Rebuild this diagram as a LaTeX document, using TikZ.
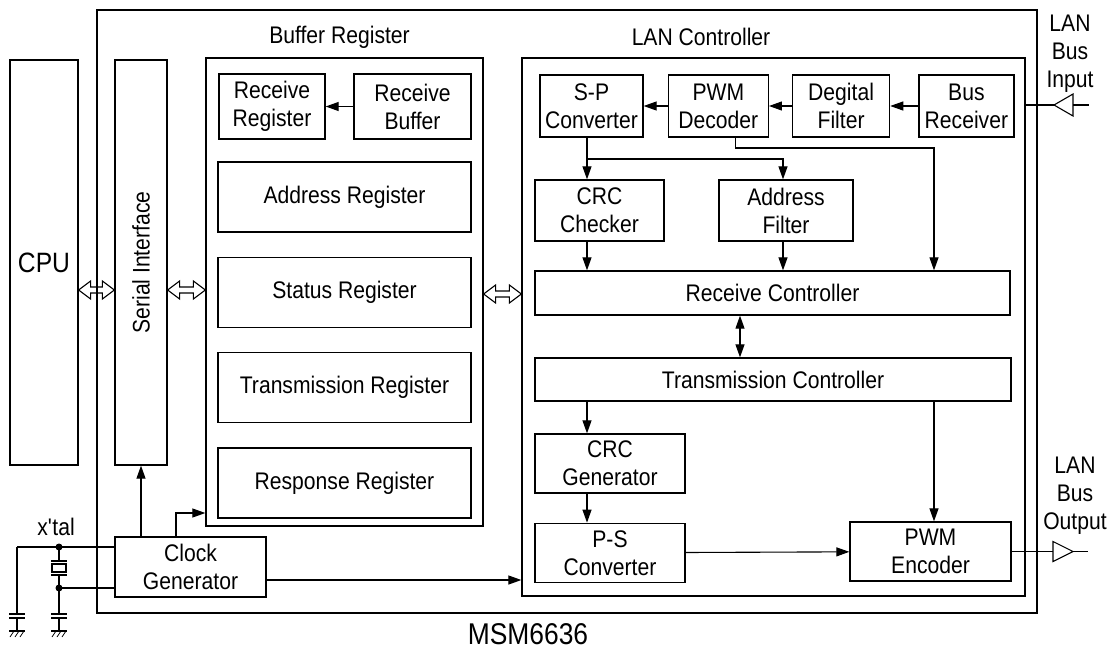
\documentclass[tikz,border=0pt]{standalone}
\usepackage{fontspec}
\setmainfont{Liberation Sans}[FakeStretch=0.88]
\usetikzlibrary{arrows.meta, positioning}

\tikzset{
    bus/.style={
        line width=1.1pt,
        to path={(\tikztostart) -- ++(12pt,9pt) -- ++(0pt,-6pt)
            -- ([shift={(-12pt,3pt)}]\tikztotarget) -- ++(0pt,6pt)
            -- (\tikztotarget) -- ++(-12pt,-9pt) -- ++(0pt,6pt)
            -- ([shift={(12pt,-3pt)}]\tikztostart) -- ++(0pt,-6pt) -- cycle}
    }
}

\begin{document}
\begin{tikzpicture}[
            x=1pt, y=-1pt,
            every node/.style={font=\fontsize{24}{28}\selectfont},
            block/.style={
                rectangle, 
                draw, 
                line width=1.3pt, 
                inner sep=0pt, 
                align=center
            },
            reg/.style={
                block, 
                minimum width=253pt, 
                minimum height=70pt
            },
            wire/.style={line width=1.1pt},
            arrow/.style={
                -{Triangle[length=13pt, width=9pt]}, 
                line width=1.1pt
            },
            dblarrow/.style={
                {Triangle[length=13pt, width=9pt]}-{Triangle[length=13pt, width=9pt]}, 
                line width=1.1pt
            }
        ]
        \useasboundingbox (0,0) rectangle (1119,651);
        
        % Chip outline
        \node (chip) [block, minimum width=940pt, minimum height=603pt] at (567,311.5) {};
        \node (chipname) [font=\fontsize{30}{34}\selectfont] at (528,634) {MSM6636};
        
        % CPU and Serial Interface
        \node (cpu) [block, minimum width=68pt, minimum height=405pt, font=\fontsize{28}{32}\selectfont] at (44,262.5) {CPU};
        \node (serial) [block, minimum width=52pt, minimum height=405pt] at (141,262.5) {};
        \node (seriallabel) [rotate=90] at (serial.center) {Serial Interface};
        
        % Buffer Register
        \node (bufreg) [block, minimum width=277pt, minimum height=468pt] at (344.5,292) {};
        \node (buftitle) at (339.5,37) {Buffer Register};
        \node (rxreg) [block, minimum width=106pt, minimum height=65pt] at (272,106.5) {Receive\\Register};
        \node (rxbuf) [block, minimum width=117pt, minimum height=65pt] at (412.5,106.5) {Receive\\Buffer};
        \node (addrreg) [reg] at (344.5,197) {Address Register};
        \node (statreg) [reg, below=24pt of addrreg] {Status Register};
        \node (txreg) [reg, below=24pt of statreg] {Transmission Register};
        \node (respreg) [reg, below=24pt of txreg] {Response Register};
        
        % LAN Controller
        \node (lan) [block, minimum width=503pt, minimum height=538pt] at (773.5,327) {};
        \node (lantitle) at (701,37) {LAN Controller};
        \node (sp) [block, minimum width=103pt, minimum height=62pt] at (591.5,106) {S-P\\Converter};
        \node (pwmdec) [block, minimum width=100pt, minimum height=62pt, right=24pt of sp] {PWM\\Decoder};
        \node (digfilt) [block, minimum width=97pt, minimum height=62pt, right=23pt of pwmdec] {Degital\\Filter};
        \node (busrx) [block, minimum width=95pt, minimum height=62pt, right=28pt of digfilt] {Bus\\Receiver};
        \node (crcchk) [block, minimum width=129pt, minimum height=61pt] at (599.5,210.5) {CRC\\Checker};
        \node (addrfilt) [block, minimum width=134pt, minimum height=61pt] at (786,210.5) {Address\\Filter};
        \node (rxctrl) [block, minimum width=475pt, minimum height=44pt] at (772.5,293) {Receive Controller};
        \node (txctrl) [block, minimum width=476pt, minimum height=43pt] at (773,379.5) {Transmission Controller};
        \node (crcgen) [block, minimum width=150pt, minimum height=59pt] at (610,463.5) {CRC\\Generator};
        \node (ps) [block, minimum width=150pt, minimum height=59pt, below=29pt of crcgen] {P-S\\Converter};
        \node (pwmenc) [block, minimum width=161pt, minimum height=59pt] at (930.5,551.5) {PWM\\Encoder};
        
        % Clock Generator
        \node (clkgen) [block, minimum width=151pt, minimum height=60pt] at (190.5,567) {Clock\\Generator};
        
        % Bus Input / Output labels
        \node (inlabel) [align=center] at (1070,54) {LAN\\Bus\\Input};
        \node (outlabel) [align=center] at (1075,496) {LAN\\Bus\\Output};
        \node (xtal) at (56,527) {x\textquotesingle tal};
        
        % Helper coordinates
        \coordinate (lc) at (587,0);
        \coordinate (mc) at (740,0);
        \coordinate (rc) at (934,0);
        \coordinate (split) at (587,159);
        \coordinate (clkup) at (176,513);
        \coordinate (busa) at (cpu.east |- 0,290);
        \coordinate (busb) at (serial.west |- 0,290);
        \coordinate (busc) at (serial.east |- 0,290);
        \coordinate (busd) at (bufreg.west |- 0,290);
        \coordinate (buse) at (bufreg.east |- 0,294);
        \coordinate (busf) at (lan.west |- 0,294);
        
        % Data buses
        \draw[bus] (busa) to (busb);
        \draw[bus] (busc) to (busd);
        \draw[bus] (buse) to (busf);
        
        % Arrows inside Buffer Register
        \draw[arrow] (rxbuf) -- (rxreg);
        
        % Arrows inside LAN Controller
        \draw[arrow] (busrx) -- (digfilt);
        \draw[arrow] (digfilt) -- (pwmdec);
        \draw[arrow] (pwmdec) -- (sp);
        \draw[arrow] (sp.south -| lc) -- (crcchk.north -| lc);
        \draw[arrow] (split) -| ([xshift=-3pt]addrfilt.north);
        \draw[arrow] ([xshift=17pt]pwmdec.south) |- (rc |- 0,148) -- (rxctrl.north -| rc);
        \draw[arrow] (crcchk.south -| lc) -- (rxctrl.north -| lc);
        \draw[arrow] ([xshift=-3pt]addrfilt.south) -- ([xshift=-3pt]addrfilt.south |- rxctrl.north);
        \draw[dblarrow] (rxctrl.south -| mc) -- (txctrl.north -| mc);
        \draw[arrow] (txctrl.south -| lc) -- (crcgen.north -| lc);
        \draw[arrow] (crcgen.south -| lc) -- (ps.north -| lc);
        \draw[arrow] (ps) -- (pwmenc);
        \draw[arrow] (txctrl.south -| rc) -- (pwmenc.north -| rc);
        
        % Clock distribution
        \draw[arrow] (clkgen.north -| serial.south) -- (serial.south);
        \draw[arrow] (clkgen.north -| clkup) |- (bufreg.west |- clkup);
        \draw[arrow] (clkgen.east |- 0,580) -- (lan.west |- 0,580);
        
        % LAN bus input buffer
        \coordinate (intip) at (1054,105);
        \draw[wire] (lan.east |- intip) -- (intip);
        \draw[wire] (intip) -- ++(19,-11) -- ++(0,22) -- cycle;
        \draw[wire] (intip) ++(19,0) -- ++(16,0);
        
        % LAN bus output buffer
        \coordinate (outbase) at (1053,551.5);
        \draw[wire] (pwmenc.east) -- (outbase);
        \draw[wire] (outbase) -- ++(0,-10) -- ++(20,10) -- ++(-20,10) -- cycle;
        \draw[wire] (outbase) ++(20,0) -- ++(15,0);
        
        % Crystal and load capacitors
        \coordinate (xa) at (59,547);
        \coordinate (xb) at (59,588);
        \draw[wire] (17,547) -- (clkgen.west |- xa);
        \draw[wire] (xb) -- (clkgen.west |- xb);
        \fill (xa) circle (3.5pt);
        \fill (xb) circle (3.5pt);
        \draw[wire] (xa) -- (59,561) (51,561) -- (67,561) (52,564) rectangle (66,572)
            (51,575) -- (67,575) (59,575) -- (xb);
        \foreach \cx/\cy in {17/547, 59/588} {
            \draw[wire] (\cx,\cy) -- (\cx,614) (\cx-8,614) -- (\cx+8,614)
                (\cx-8,618) -- (\cx+8,618) (\cx,618) -- (\cx,631) (\cx-8,631) -- (\cx+8,631);
            \foreach \hx in {-5,0,5}
                \draw[line width=0.8pt] (\cx+\hx+2,631) -- (\cx+\hx-2,637);
        }
        
        \end{tikzpicture}
\end{document}
